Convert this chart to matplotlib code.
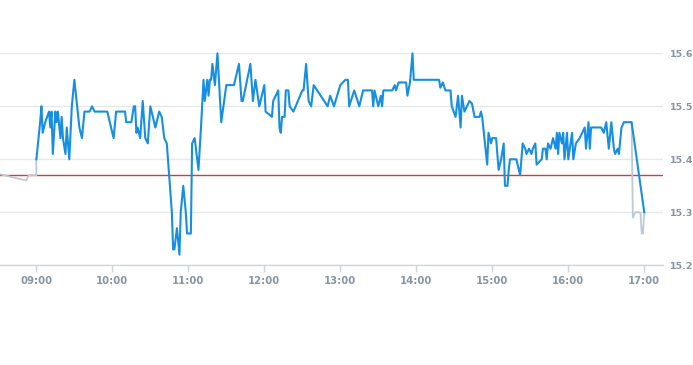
import matplotlib
matplotlib.use("Agg")
import matplotlib.pyplot as plt
import numpy as np

# ---- data ----
prev_close = 15.37

pre_times = ["08:31", "08:52", "08:54", "09:00", "09:00"]
pre_prices = [15.372, 15.36, 15.37, 15.37, 15.40]

main_times = [
    "09:00", "09:03", "09:04", "09:05", "09:07", "09:10", "09:11", "09:12", "09:13", "09:15",
    "09:16", "09:17", "09:19", "09:20", "09:21", "09:23", "09:24", "09:26", "09:28", "09:30",
    "09:34", "09:36", "09:38", "09:42", "09:44", "09:46", "09:56", "10:01", "10:03", "10:10",
    "10:11", "10:15", "10:17", "10:18", "10:19", "10:20", "10:22", "10:24", "10:26", "10:28",
    "10:30", "10:34", "10:37", "10:39", "10:41", "10:43", "10:47", "10:48", "10:49", "10:51",
    "10:53", "10:54", "10:56", "10:58", "10:59", "11:02", "11:03", "11:05", "11:08", "11:10",
    "11:12", "11:13", "11:15", "11:16", "11:17", "11:18", "11:19", "11:21", "11:23", "11:26",
    "11:30", "11:36", "11:40", "11:42", "11:43", "11:49", "11:51", "11:53", "11:56", "12:00",
    "12:01", "12:06", "12:07", "12:11", "12:12", "12:13", "12:14", "12:16", "12:17", "12:19",
    "12:20", "12:23", "12:30", "12:31", "12:33", "12:35", "12:37", "12:39", "12:50", "12:52",
    "12:55", "13:00", "13:04", "13:06", "13:07", "13:11", "13:15", "13:18", "13:25", "13:26",
    "13:27", "13:30", "13:32", "13:33", "13:34", "13:41", "13:43", "13:44", "13:46", "13:52",
    "13:53", "13:55", "13:57", "13:58", "14:18", "14:19", "14:21", "14:23", "14:27", "14:28",
    "14:31", "14:33", "14:35", "14:36", "14:38", "14:42", "14:44", "14:46", "14:50", "14:51",
    "14:52", "14:56", "14:57", "14:59", "15:00", "15:03", "15:05", "15:07", "15:09", "15:10",
    "15:12", "15:13", "15:14", "15:19", "15:22", "15:24", "15:26", "15:27", "15:29", "15:31",
    "15:32", "15:34", "15:35", "15:39", "15:40", "15:42", "15:43", "15:44", "15:46", "15:48",
    "15:50", "15:51", "15:52", "15:53", "15:55", "15:56", "15:57", "15:59", "16:00", "16:03",
    "16:04", "16:06", "16:09", "16:13", "16:14", "16:16", "16:17", "16:18", "16:26", "16:28",
    "16:30", "16:32", "16:34", "16:36", "16:37", "16:39", "16:40", "16:42", "16:44", "16:50",
    "17:00",
]
main_prices = [
    15.40, 15.47, 15.50, 15.45, 15.47, 15.49, 15.46, 15.49, 15.41, 15.49,
    15.47, 15.49, 15.44, 15.48, 15.44, 15.41, 15.46, 15.40, 15.50, 15.55,
    15.46, 15.44, 15.49, 15.49, 15.50, 15.49, 15.49, 15.44, 15.49, 15.49,
    15.47, 15.47, 15.50, 15.50, 15.45, 15.46, 15.44, 15.51, 15.44, 15.43,
    15.50, 15.46, 15.49, 15.48, 15.44, 15.43, 15.30, 15.23, 15.23, 15.27,
    15.22, 15.30, 15.35, 15.30, 15.26, 15.26, 15.43, 15.44, 15.38, 15.46,
    15.55, 15.51, 15.55, 15.52, 15.55, 15.55, 15.58, 15.54, 15.60, 15.47,
    15.54, 15.54, 15.58, 15.51, 15.51, 15.58, 15.51, 15.55, 15.50, 15.54,
    15.49, 15.48, 15.51, 15.53, 15.46, 15.45, 15.48, 15.48, 15.53, 15.53,
    15.50, 15.49, 15.53, 15.53, 15.58, 15.51, 15.50, 15.54, 15.50, 15.52,
    15.50, 15.54, 15.55, 15.55, 15.50, 15.53, 15.50, 15.53, 15.53, 15.50,
    15.53, 15.50, 15.52, 15.50, 15.53, 15.53, 15.54, 15.53, 15.545, 15.545,
    15.52, 15.545, 15.60, 15.55, 15.55, 15.535, 15.545, 15.53, 15.53, 15.50,
    15.48, 15.52, 15.46, 15.52, 15.49, 15.51, 15.505, 15.48, 15.48, 15.49,
    15.48, 15.39, 15.45, 15.43, 15.44, 15.44, 15.38, 15.40, 15.43, 15.35,
    15.35, 15.38, 15.40, 15.40, 15.37, 15.43, 15.42, 15.41, 15.42, 15.41,
    15.42, 15.43, 15.39, 15.40, 15.42, 15.42, 15.40, 15.43, 15.42, 15.44,
    15.42, 15.45, 15.41, 15.45, 15.43, 15.45, 15.40, 15.45, 15.40, 15.45,
    15.40, 15.43, 15.44, 15.46, 15.42, 15.47, 15.42, 15.46, 15.46, 15.45,
    15.47, 15.42, 15.47, 15.42, 15.41, 15.42, 15.41, 15.46, 15.47, 15.47,
    15.30,
]

post_times = ["16:50", "16:51", "16:53", "16:57", "16:58", "16:59", "17:00"]
post_prices = [15.47, 15.29, 15.30, 15.30, 15.26, 15.26, 15.30]

xtick_labels = ["09:00", "10:00", "11:00", "12:00", "13:00", "14:00", "15:00", "16:00", "17:00"]
ytick_values = [15.2, 15.3, 15.4, 15.5, 15.6]


def to_min(t):
    h, m = t.split(":")
    return int(h) * 60 + int(m)


pre_x = [to_min(t) for t in pre_times]
main_x = [to_min(t) for t in main_times]
post_x = [to_min(t) for t in post_times]
xt = [to_min(t) for t in xtick_labels]

W, H = 693, 365
fig = plt.figure(figsize=(W / 100, H / 100), dpi=100)
ax = fig.add_axes([0, (H - 265.3) / H, 663 / W, (265.3 - 53.3) / H])

blue = "#168fe3"
gray = "#bccad6"
grid = "#e6e9ec"
label_col = "#8795a3"

ax.set_xlim(to_min("08:31") + 0.3, to_min("17:15") - 0.2)
ax.set_ylim(15.2, 15.6)

for v in ytick_values:
    ax.axhline(v, color=grid, lw=1.0, zorder=0)

ax.axhline(prev_close, color="#d23c3c", lw=1.0, zorder=2)

ax.plot(pre_x, pre_prices, color=gray, lw=1.3, zorder=3, solid_joinstyle="round")
ax.plot(post_x, post_prices, color=gray, lw=1.3, zorder=3, solid_joinstyle="round")
ax.plot(main_x, main_prices, color=blue, lw=1.5, zorder=4, clip_on=False,
        solid_joinstyle="round")

for s in ["top", "left", "right"]:
    ax.spines[s].set_visible(False)
ax.spines["bottom"].set_color("#ccd6e0")
ax.spines["bottom"].set_linewidth(1.0)

ax.set_xticks(xt)
ax.set_xticklabels(xtick_labels)
ax.tick_params(axis="x", length=5, width=1, color="#ccd6e0", pad=3,
               labelsize=7.3, labelcolor=label_col)
for lab in ax.get_xticklabels():
    lab.set_fontweight("bold")

ax.yaxis.tick_right()
ax.set_yticks(ytick_values)
ax.set_yticklabels([f"{v:.1f}" for v in ytick_values])
ax.tick_params(axis="y", length=0, pad=5, labelsize=6.8, labelcolor=label_col)
for lab in ax.get_yticklabels():
    lab.set_fontweight("bold")

fig.savefig("out.png", dpi=100)
